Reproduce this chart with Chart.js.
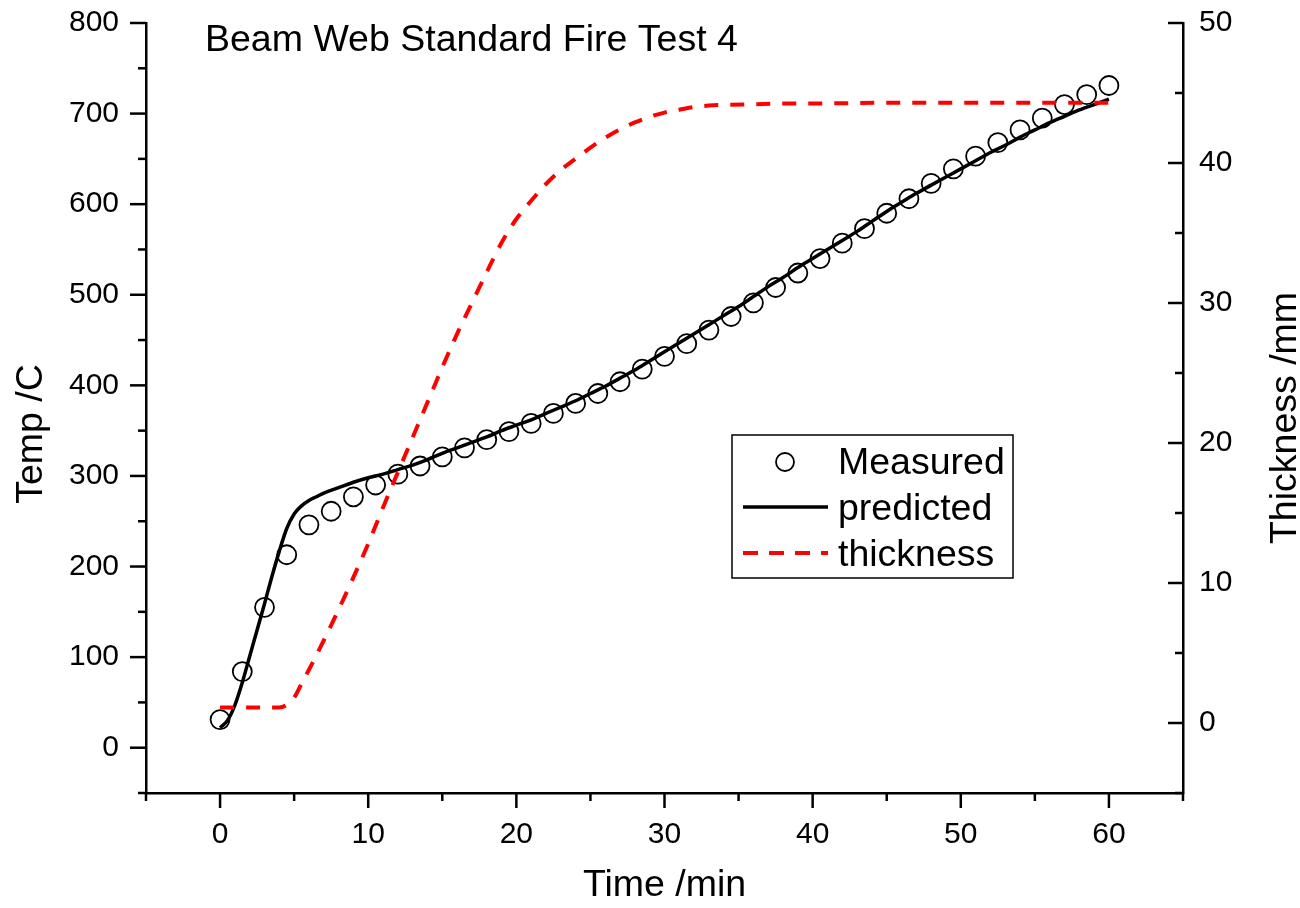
<!DOCTYPE html>
<html>
<head>
<meta charset="utf-8">
<script src="https://cdn.jsdelivr.net/npm/chart.js@4.4.0/dist/chart.umd.min.js"></script>
<style>
html,body{margin:0;padding:0;background:#fff;}
#wrap{width:1300px;height:908px;position:relative;}
canvas{display:block;}
</style>
</head>
<body>
<div id="wrap"><canvas id="c" width="1300" height="908"></canvas></div>
<script>
// ---- texts ----
const chartTitle = 'Beam Web Standard Fire Test 4';
const xTitle = 'Time /min';
const yTitle = 'Temp /C';
const y2Title = 'Thickness /mm';
const legendLabels = ['Measured', 'predicted', 'thickness'];

// ---- data ----
const measuredTime = [0, 1.5, 3, 4.5, 6, 7.5, 9, 10.5, 12, 13.5, 15, 16.5, 18, 19.5, 21, 22.5, 24, 25.5, 27, 28.5, 30, 31.5, 33, 34.5, 36, 37.5, 39, 40.5, 42, 43.5, 45, 46.5, 48, 49.5, 51, 52.5, 54, 55.5, 57, 58.5, 60];
const measuredTemp = [31, 84, 155, 213, 246, 261, 277, 290, 302, 311, 321, 331, 340, 349, 358, 369, 380, 391, 404, 418, 432, 446, 461, 476, 491, 508, 524, 540, 557, 573, 590, 606, 623, 639, 653, 668, 682, 695, 710, 721, 731];

const predictedTime = [0, 0.5, 1, 1.5, 2, 2.5, 3, 3.5, 4, 4.5, 5, 5.5, 6, 6.5, 7, 8, 9, 10, 11, 12, 13, 14, 15, 16, 17, 18, 19, 20, 21, 22, 23, 24, 25, 26, 27, 28, 29, 30, 31, 32, 33, 34, 35, 36, 37, 38, 39, 40, 41, 42, 43, 44, 45, 46, 47, 48, 49, 50, 51, 52, 53, 54, 55, 56, 57, 58, 59, 60];
const predictedTemp = [22, 30, 47, 72, 101, 130, 159, 189, 217, 242, 258, 267, 273, 277, 281, 287, 293, 298, 302, 307, 312, 318, 325, 331, 337, 343, 350, 356, 362, 369, 376, 383, 391, 399, 408, 417, 427, 437, 447, 457, 467, 477, 487, 498, 509, 519, 530, 540, 550, 560, 570, 581, 592, 602, 612, 621, 630, 639, 648, 657, 665, 674, 682, 690, 697, 704, 710, 716];

const thicknessTime = [0, 1, 2, 3, 4, 4.5, 5, 5.5, 6, 7, 8, 9, 10, 11, 12, 13, 14, 15, 16, 17, 18, 19, 20, 21, 22, 23, 24, 25, 26, 27, 28, 29, 30, 31, 32, 33, 34, 36, 38, 40, 45, 50, 55, 60];
const thicknessValue = [1.1, 1.1, 1.1, 1.1, 1.1, 1.3, 1.8, 2.8, 3.8, 5.9, 8.1, 10.4, 12.8, 15.4, 17.9, 20.4, 22.9, 25.4, 27.8, 30.0, 32.2, 34.3, 36.0, 37.3, 38.5, 39.5, 40.3, 41.1, 41.8, 42.4, 42.9, 43.3, 43.6, 43.8, 44.0, 44.1, 44.15, 44.2, 44.25, 44.25, 44.3, 44.3, 44.3, 44.3];

// ---- ticks ----
const xMajorTicks = [0, 10, 20, 30, 40, 50, 60];
const xMinorTicks = [-5, 5, 15, 25, 35, 45, 55, 65];
const yMajorTicks = [0, 100, 200, 300, 400, 500, 600, 700, 800];
const yMinorTicks = [-50, 50, 150, 250, 350, 450, 550, 650, 750];
const y2MajorTicks = [0, 10, 20, 30, 40, 50];
const y2MinorTicks = [-5, 5, 15, 25, 35, 45];

const FONT = '"Liberation Sans", Arial, Helvetica, sans-serif';
const BIG = 37.5;

const decor = {
  id: 'decor',
  afterDraw(chart) {
    const {ctx, chartArea: ca, scales} = chart;
    const xs = scales.x, ys = scales.y, y2 = scales.y2;
    ctx.save();
    ctx.strokeStyle = '#000';
    ctx.lineWidth = 2.5;
    ctx.lineCap = 'butt';
    const seg = (a, b, c, d) => { ctx.beginPath(); ctx.moveTo(a, b); ctx.lineTo(c, d); ctx.stroke(); };
    xMajorTicks.forEach(v => { const p = xs.getPixelForValue(v); seg(p, ca.bottom, p, ca.bottom + 15); });
    xMinorTicks.forEach(v => { const p = xs.getPixelForValue(v); seg(p, ca.bottom, p, ca.bottom + 8); });
    yMajorTicks.forEach(v => { const p = ys.getPixelForValue(v); seg(ca.left - 16, p, ca.left, p); });
    yMinorTicks.forEach(v => { const p = ys.getPixelForValue(v); seg(ca.left - 8, p, ca.left, p); });
    y2MajorTicks.forEach(v => { const p = y2.getPixelForValue(v); seg(ca.right - 15, p, ca.right, p); });
    y2MinorTicks.forEach(v => { const p = y2.getPixelForValue(v); seg(ca.right - 8, p, ca.right, p); });

    // title inside plot
    ctx.fillStyle = '#000';
    ctx.font = BIG + 'px ' + FONT;
    ctx.textAlign = 'left';
    ctx.textBaseline = 'alphabetic';
    ctx.fillText(chartTitle, 205, 51);

    // y axis titles
    ctx.save();
    ctx.translate(42, 434);
    ctx.rotate(-Math.PI / 2);
    ctx.textAlign = 'center';
    ctx.fillText(yTitle, 0, 0);
    ctx.restore();

    ctx.save();
    ctx.translate(1296, 418);
    ctx.rotate(-Math.PI / 2);
    ctx.textAlign = 'center';
    ctx.fillText(y2Title, 0, 0);
    ctx.restore();

    // legend
    ctx.lineWidth = 1.5;
    ctx.strokeRect(732, 435, 281, 143);
    ctx.beginPath();
    ctx.arc(785, 462, 9, 0, Math.PI * 2);
    ctx.lineWidth = 1.8;
    ctx.stroke();
    ctx.lineWidth = 3.5;
    seg(743, 507, 828, 507);
    ctx.strokeStyle = '#ff0000';
    ctx.lineWidth = 4;
    ctx.setLineDash([15, 11]);
    seg(743, 553, 828, 553);
    ctx.setLineDash([]);
    ctx.fillStyle = '#000';
    ctx.textAlign = 'left';
    ctx.fillText(legendLabels[0], 838, 474);
    ctx.fillText(legendLabels[1], 838, 520);
    ctx.fillText(legendLabels[2], 838, 566);
    ctx.restore();
  }
};

const tickFont = {family: FONT, size: 30};
const noPad = s => { s.paddingTop = 0; s.paddingBottom = 0; };

new Chart(document.getElementById('c'), {
  type: 'scatter',
  data: {
    datasets: [
      {
        label: legendLabels[2],
        data: thicknessTime.map((t, i) => ({x: t, y: thicknessValue[i]})),
        yAxisID: 'y2',
        showLine: true,
        borderColor: '#ff0000',
        backgroundColor: '#ff0000',
        borderWidth: 4,
        borderDash: [14, 12],
        pointRadius: 0,
        cubicInterpolationMode: 'monotone',
        fill: false
      },
      {
        label: legendLabels[1],
        data: predictedTime.map((t, i) => ({x: t, y: predictedTemp[i]})),
        yAxisID: 'y',
        showLine: true,
        borderColor: '#000',
        backgroundColor: '#000',
        borderWidth: 3.5,
        pointRadius: 0,
        cubicInterpolationMode: 'monotone',
        fill: false
      },
      {
        label: legendLabels[0],
        data: measuredTime.map((t, i) => ({x: t, y: measuredTemp[i]})),
        yAxisID: 'y',
        showLine: false,
        pointStyle: 'circle',
        pointRadius: 9.5,
        pointBorderWidth: 1.8,
        borderColor: '#000',
        backgroundColor: 'rgba(0,0,0,0)'
      }
    ]
  },
  options: {
    responsive: false,
    animation: false,
    devicePixelRatio: 1,
    layout: {autoPadding: false, padding: {top: 23, left: 0, right: 0, bottom: 0}},
    plugins: {legend: {display: false}, tooltip: {enabled: false}},
    scales: {
      x: {
        type: 'linear', position: 'bottom', min: -5, max: 65,
        afterBuildTicks: s => { s.ticks = xMajorTicks.map(v => ({value: v})); },
        afterFit: s => { s.height = 115; s.paddingLeft = 0; s.paddingRight = 0; },
        grid: {display: true, drawOnChartArea: false, drawTicks: false},
        border: {display: true, color: '#000', width: 2.5},
        ticks: {color: '#000', font: tickFont, padding: 24, maxRotation: 0, autoSkip: false},
        title: {display: true, text: xTitle, color: '#000', font: {family: FONT, size: BIG, lineHeight: 1.2}, padding: {top: 0, bottom: 0}}
      },
      y: {
        type: 'linear', position: 'left', min: -50, max: 800,
        afterBuildTicks: s => { s.ticks = yMajorTicks.map(v => ({value: v})); },
        afterFit: s => { s.width = 146; noPad(s); },
        grid: {display: true, drawOnChartArea: false, drawTicks: false},
        border: {display: true, color: '#000', width: 2.5},
        ticks: {color: '#000', font: tickFont, padding: 27, autoSkip: false}
      },
      y2: {
        type: 'linear', position: 'right', min: -5, max: 50,
        afterBuildTicks: s => { s.ticks = y2MajorTicks.map(v => ({value: v})); },
        afterFit: s => { s.width = 117; noPad(s); },
        grid: {display: true, drawOnChartArea: false, drawTicks: false},
        border: {display: true, color: '#000', width: 2.5},
        ticks: {color: '#000', font: tickFont, padding: 16, autoSkip: false}
      }
    }
  },
  plugins: [decor]
});
</script>
</body>
</html>
